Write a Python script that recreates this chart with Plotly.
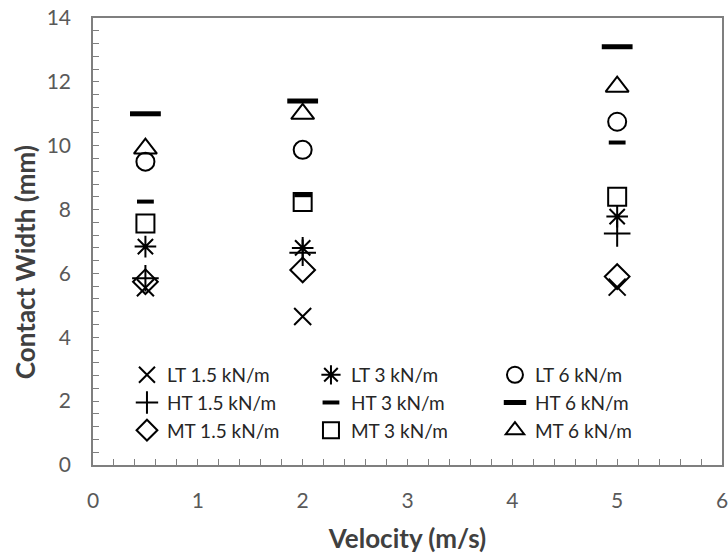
import plotly.graph_objects as go

velocity = [0.5, 2, 5]

series_names = ["LT 1.5 kN/m", "LT 3 kN/m", "LT 6 kN/m",
                "HT 1.5 kN/m", "HT 3 kN/m", "HT 6 kN/m",
                "MT 1.5 kN/m", "MT 3 kN/m", "MT 6 kN/m"]

lt_15 = [5.55, 4.65, 5.57]
lt_3 = [6.84, 6.80, 7.78]
lt_6 = [9.50, 9.87, 10.75]
ht_15 = [5.85, 6.65, 7.25]
ht_3 = [8.25, 8.45, 10.10]
ht_6 = [11.00, 11.40, 13.10]
mt_15 = [5.74, 6.11, 5.90]
mt_3 = [7.56, 8.24, 8.40]
mt_6 = [9.91, 11.00, 11.85]

values = [lt_15, lt_3, lt_6, ht_15, ht_3, ht_6, mt_15, mt_3, mt_6]

styles = [
    dict(symbol="x-thin-open", size=17, line=dict(width=2, color="black")),
    dict(symbol="asterisk-open", size=18, line=dict(width=2, color="black")),
    dict(symbol="circle-open", size=18, line=dict(width=2, color="black")),
    dict(symbol="cross-thin-open", size=19, line=dict(width=2, color="black")),
    dict(symbol="line-ew-open", size=12, line=dict(width=4, color="#2a2a2a")),
    dict(symbol="line-ew-open", size=22, line=dict(width=5, color="#2a2a2a")),
    dict(symbol="diamond-open", size=19, line=dict(width=2, color="black")),
    dict(symbol="square-open", size=18, line=dict(width=2, color="black")),
    dict(symbol="triangle-up-open", size=20, line=dict(width=2, color="black")),
]

fig = go.Figure()
for name, vals, st in zip(series_names, values, styles):
    fig.add_trace(go.Scatter(x=velocity, y=vals, mode="markers", name=name,
                             marker=dict(color="black", **st)))

font_family = "Lato, 'Open Sans', sans-serif"
axis_common = dict(
    showline=True, linecolor="#7f7f7f", linewidth=1.5, mirror=True,
    showgrid=False, zeroline=False, automargin=False,
    ticklabeloverflow="allow",
    ticks="inside", ticklen=6, tickcolor="#7f7f7f", tickwidth=1.3,
    tickfont=dict(family=font_family, size=21, color="#595959"),
)

fig.update_layout(
    width=728, height=554,
    margin=dict(l=93, r=6, t=18, b=89),
    paper_bgcolor="white", plot_bgcolor="white",
    font=dict(family=font_family, color="#262626"),
    xaxis=dict(range=[0, 6], dtick=1, tick0=0,
               minor=dict(dtick=0.2, ticks="inside", ticklen=6, tickcolor="#7f7f7f"),
               title=dict(text="<b>Velocity (m/s)</b>", font=dict(size=26, color="#404040"), standoff=19),
               ticklabelstandoff=16,
               **axis_common),
    yaxis=dict(range=[0, 14], dtick=2, tick0=0,
               minor=dict(dtick=0.4, ticks="inside", ticklen=6, tickcolor="#7f7f7f"),
               ticklabelstandoff=16,
               **axis_common),
    annotations=[dict(text="<b>Contact Width (mm)</b>", xref="paper", yref="paper",
                      x=-0.108, y=0.454, xanchor="center", yanchor="middle",
                      textangle=-90, showarrow=False,
                      font=dict(family=font_family, size=26, color="#404040"))],
    showlegend=True,
    legend=dict(orientation="h", x=0.054, y=0.244, xanchor="left", yanchor="top",
                entrywidth=139, entrywidthmode="pixels",
                font=dict(family=font_family, size=19, color="#262626"),
                bgcolor="rgba(255,255,255,0)", itemwidth=30, tracegroupgap=0),
)

fig.write_html("out.html", config={"displayModeBar": False, "responsive": False},
               post_script="document.body.style.margin='0';document.body.style.overflow='hidden';")
